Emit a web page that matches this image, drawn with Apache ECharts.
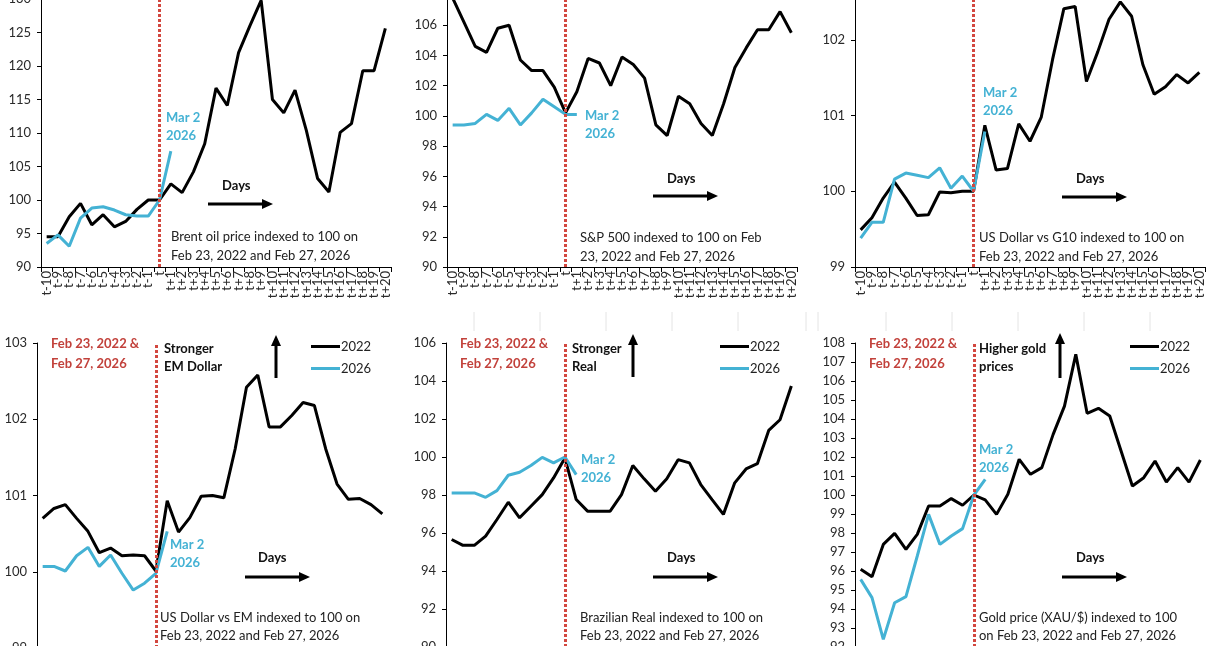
<!DOCTYPE html>
<html>
<head>
<meta charset="utf-8">
<title>2022 vs 2026</title>
<script src="https://cdn.jsdelivr.net/npm/echarts@6/dist/echarts.min.js"></script>
<style>
  html, body { margin: 0; padding: 0; background: #fff; }
  #main { width: 1210px; height: 646px; }
</style>
</head>
<body>
<div id="main"></div>
<script>
// categories
var days = ['t-10', 't-9', 't-8', 't-7', 't-6', 't-5', 't-4', 't-3', 't-2', 't-1', 't',
            't+1', 't+2', 't+3', 't+4', 't+5', 't+6', 't+7', 't+8', 't+9', 't+10',
            't+11', 't+12', 't+13', 't+14', 't+15', 't+16', 't+17', 't+18', 't+19', 't+20'];

// Brent oil
var brent2022 = [94.5, 94.5, 97.5, 99.5, 96.3, 97.8, 96.0, 96.8, 98.6, 100, 100, 102.4, 101.1, 104.2, 108.4, 116.7,
                 114.1, 122.0, 126.0, 129.8, 115.0, 113.0, 116.4, 110.4, 103.2, 101.2, 110.1, 111.4, 119.3, 119.3, 125.6];
var brent2026 = [93.5, 94.8, 93.1, 97.3, 98.8, 99.0, 98.5, 97.8, 97.6, 97.6, 100, 107.3];

// S&P 500
var sp2022 = [107.8, 106.2, 104.6, 104.2, 105.8, 106.0, 103.7, 103.0, 103.0, 101.9, 100.2, 101.6, 103.8, 103.5, 102.0, 103.9,
              103.4, 102.5, 99.4, 98.7, 101.3, 100.8, 99.5, 98.7, 100.8, 103.2, 104.5, 105.7, 105.7, 106.9, 105.5];
var sp2026 = [99.4, 99.4, 99.5, 100.1, 99.7, 100.5, 99.4, 100.2, 101.1, 100.6, 100.1, 100.1];

// US Dollar vs G10
var g10_2022 = [99.49, 99.65, 99.91, 100.12, 99.91, 99.68, 99.69, 99.99, 99.98, 100.0, 100.0, 100.87, 100.28, 100.3, 100.89, 100.66,
                100.98, 101.74, 102.41, 102.44, 101.45, 101.84, 102.27, 102.5, 102.31, 101.67, 101.28, 101.38, 101.54, 101.43, 101.57];
var g10_2026 = [99.38, 99.59, 99.59, 100.16, 100.24, 100.21, 100.18, 100.31, 100.04, 100.2, 100.0, 100.79];

// US Dollar vs EM
var em2022 = [100.70, 100.83, 100.88, 100.70, 100.53, 100.25, 100.31, 100.21, 100.22, 100.21, 100.01, 100.93, 100.52, 100.71, 100.99, 101.0,
              100.97, 101.61, 102.42, 102.58, 101.9, 101.9, 102.05, 102.22, 102.18, 101.61, 101.15, 100.95, 100.96, 100.88, 100.76];
var em2026 = [100.07, 100.07, 100.01, 100.21, 100.32, 100.07, 100.22, 99.98, 99.76, 99.85, 99.98, 100.53];

// Brazilian Real
var brl2022 = [95.66, 95.35, 95.35, 95.84, 96.71, 97.62, 96.80, 97.41, 98.02, 98.90, 99.95, 97.76, 97.15, 97.15, 97.15, 98.02,
               99.55, 98.85, 98.2, 98.85, 99.86, 99.69, 98.55, 97.76, 96.98, 98.64, 99.37, 99.65, 101.40, 101.96, 103.74];
var brl2026 = [98.11, 98.11, 98.11, 97.88, 98.23, 99.04, 99.2, 99.55, 99.98, 99.69, 100, 99.07];

// Gold
var gold2022 = [96.09, 95.70, 97.40, 97.98, 97.14, 97.93, 99.42, 99.42, 99.81, 99.46, 100, 99.74, 98.98, 100.04, 101.88, 101.09,
                101.44, 103.19, 104.68, 107.40, 104.30, 104.56, 104.16, 102.32, 100.47, 100.91, 101.79, 100.68, 101.44, 100.68, 101.84];
var gold2026 = [95.56, 94.6, 92.4, 94.33, 94.65, 96.79, 98.98, 97.40, 97.84, 98.23, 100, 100.82];

// y axis ranges [min, max, interval]
var brentAxis = [90, 130, 5];
var spAxis = [90, 108, 2];
var g10Axis = [99, 103, 1];
var emAxis = [99, 103, 1];
var brlAxis = [90, 106, 2];
var goldAxis = [92, 108, 1];

var BLACK = '#000000';
var CYAN = '#44b2d4';
var RED = '#c2413b';
var DOTS = '#d2473f';
var FONT = 'Lato, "Noto Sans", sans-serif';

var panels = [
    { s22: brent2022, s26: brent2026, y: brentAxis, grid: { left: 41, top: -1, width: 350, height: 268 } },
    { s22: sp2022, s26: sp2026, y: spAxis, grid: { left: 447, top: -5, width: 350, height: 272 } },
    { s22: g10_2022, s26: g10_2026, y: g10Axis, grid: { left: 855, top: -36, width: 350, height: 303 } },
    { s22: em2022, s26: em2026, y: emAxis, grid: { left: 37, top: 343, width: 351, height: 305 } },
    { s22: brl2022, s26: brl2026, y: brlAxis, grid: { left: 446, top: 343, width: 351, height: 304 } },
    { s22: gold2022, s26: gold2026, y: goldAxis, grid: { left: 855, top: 343, width: 351, height: 304 } }
];

var grids = [], xAxes = [], yAxes = [], series = [];
panels.forEach(function (p, i) {
    grids.push(Object.assign({ containLabel: false, outerBoundsMode: 'none' }, p.grid));
    xAxes.push({
        type: 'category', gridIndex: i, data: days, boundaryGap: true,
        axisLine: { lineStyle: { color: BLACK, width: 1 } },
        axisTick: { show: true, length: 5, interval: 0, lineStyle: { color: BLACK } },
        axisLabel: { rotate: 90, interval: 0, fontSize: 13, color: '#2a2a2a', margin: 4, fontFamily: FONT }
    });
    yAxes.push({
        type: 'value', gridIndex: i, min: p.y[0], max: p.y[1], interval: p.y[2],
        splitLine: { show: false },
        axisLine: { show: true, lineStyle: { color: BLACK, width: 1 } },
        axisTick: { show: true, length: 4, lineStyle: { color: BLACK } },
        axisLabel: { fontSize: 13, color: '#2a2a2a', margin: 10, fontFamily: FONT }
    });
    series.push({
        type: 'line', name: '2022', xAxisIndex: i, yAxisIndex: i, data: p.s22,
        symbol: 'none', lineStyle: { color: BLACK, width: 3 }, itemStyle: { color: BLACK },
        markLine: {
            silent: true, symbol: 'none', label: { show: false },
            lineStyle: { color: DOTS, type: [3, 2], width: 3 },
            data: [{ xAxis: 't' }]
        }
    });
    series.push({
        type: 'line', name: '2026', xAxisIndex: i, yAxisIndex: i, data: p.s26,
        symbol: 'none', lineStyle: { color: CYAN, width: 3 }, itemStyle: { color: CYAN }
    });
});

// legends for the bottom row
var legends = [306, 715, 1125].map(function (x) {
    return {
        orient: 'vertical', left: x, top: 335, itemGap: 9, itemWidth: 29, itemHeight: 3,
        icon: 'rect', selectedMode: false, data: ['2022', '2026'],
        textStyle: { fontSize: 13, color: '#222', fontFamily: FONT, padding: [0, 0, 0, -4] }
    };
});

// annotations
function txt(x, yc, text, color, bold, lh) {
    return {
        type: 'text', x: x, y: yc - lh / 2, silent: true,
        style: {
            text: text, fill: color, lineHeight: lh, verticalAlign: 'top',
            font: (bold ? 'bold ' : '') + '13px ' + FONT
        }
    };
}
function arrowH(x1, x2, y) {
    return { type: 'group', silent: true, children: [
        { type: 'line', shape: { x1: x1, y1: y, x2: x2 - 8, y2: y }, style: { stroke: BLACK, lineWidth: 3 } },
        { type: 'polygon', shape: { points: [[x2 - 11, y - 5], [x2, y], [x2 - 11, y + 5]] }, style: { fill: BLACK } }
    ] };
}
function arrowV(x, y1, y2) {
    return { type: 'group', silent: true, children: [
        { type: 'line', shape: { x1: x, y1: y1, x2: x, y2: y2 + 8 }, style: { stroke: BLACK, lineWidth: 3 } },
        { type: 'polygon', shape: { points: [[x - 5, y2 + 11], [x, y2], [x + 5, y2 + 11]] }, style: { fill: BLACK } }
    ] };
}

var graphics = [];
var mar2 = [[166, 118], [585, 116], [983, 93], [170, 545], [581, 460], [979, 450]];
mar2.forEach(function (m) { graphics.push(txt(m[0], m[1], 'Mar 2\n2026', CYAN, true, 18)); });

var daysLbl = [[222, 186, 208, 273, 204], [667, 179, 653, 718, 196], [1076, 179, 1062, 1127, 197],
               [258, 558, 245, 310, 577], [667, 558, 653, 718, 577], [1076, 558, 1062, 1127, 577]];
daysLbl.forEach(function (d) {
    graphics.push(txt(d[0], d[1], 'Days', '#111', true, 16));
    graphics.push(arrowH(d[2], d[3], d[4]));
});

var descs = [
    [171, 237, 19, 'Brent oil price indexed to 100 on\nFeb 23, 2022 and Feb 27, 2026'],
    [580, 238, 19, 'S&P 500 indexed to 100 on Feb\n23, 2022 and Feb 27, 2026'],
    [979, 238, 19, 'US Dollar vs G10 indexed to 100 on\nFeb 23, 2022 and Feb 27, 2026'],
    [160, 618, 18, 'US Dollar vs EM indexed to 100 on\nFeb 23, 2022 and Feb 27, 2026'],
    [580, 618, 18, 'Brazilian Real indexed to 100 on\nFeb 23, 2022 and Feb 27, 2026'],
    [979, 618, 18, 'Gold price (XAU/$) indexed to 100\non Feb 23, 2022 and Feb 27, 2026']
];
descs.forEach(function (d) { graphics.push(txt(d[0], d[1], d[3], '#222', false, d[2])); });

[51, 460, 869].forEach(function (x) {
    graphics.push(txt(x, 344, 'Feb 23, 2022 &\nFeb 27, 2026', RED, true, 20));
});

var notes = [[164, 349, 'Stronger\nEM Dollar', 276, 378, 335],
             [572, 349, 'Stronger\nReal', 633, 377, 334],
             [979, 349, 'Higher gold\nprices', 1060, 378, 333]];
notes.forEach(function (n) {
    graphics.push(txt(n[0], n[1], n[2], '#111', true, 18));
    graphics.push(arrowV(n[3], n[4], n[5]));
});

// faint cell lines between the rows
[474, 540, 606, 672, 738, 806, 818, 886, 952, 1018, 1084, 1150].forEach(function (x) {
    graphics.push({ type: 'line', silent: true, shape: { x1: x, y1: 312, x2: x, y2: 331 },
                    style: { stroke: '#e4e4e4', lineWidth: 1 } });
});

var chart = echarts.init(document.getElementById('main'));
chart.setOption({
    animation: false,
    backgroundColor: '#fff',
    textStyle: { fontFamily: FONT },
    grid: grids,
    xAxis: xAxes,
    yAxis: yAxes,
    legend: legends,
    series: series,
    graphic: graphics
});
</script>
</body>
</html>
